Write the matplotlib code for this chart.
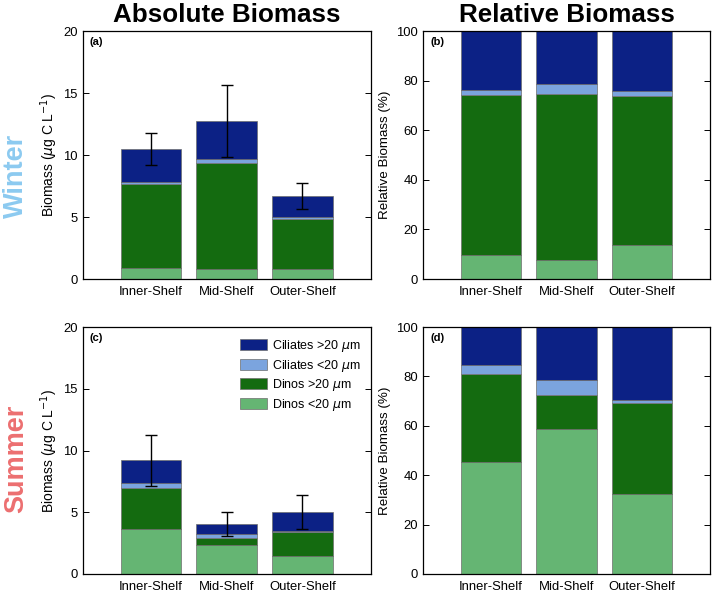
"""Absolute and relative microzooplankton biomass by shelf region, winter vs summer."""

import numpy as np
import matplotlib
matplotlib.use("Agg")
import matplotlib.pyplot as plt
from matplotlib.patches import Patch

plt.rcParams["font.family"] = ["Liberation Sans", "DejaVu Sans"]
plt.rcParams["mathtext.fontset"] = "dejavusans"

# ── Data ────────────────────────────────────────────────────────────────────
REGIONS = ["Inner-Shelf", "Mid-Shelf", "Outer-Shelf"]
GROUPS = ["Dinos <20 $\\mu$m", "Dinos >20 $\\mu$m", "Ciliates <20 $\\mu$m", "Ciliates >20 $\\mu$m"]

# winter, absolute (ug C / L)
W_DINO_S = [0.92, 0.78, 0.81]
W_DINO_L = [6.76, 8.54, 4.05]
W_CIL_S = [0.18, 0.33, 0.14]
W_CIL_L = [2.60, 3.08, 1.68]
W_ERR = [1.30, 2.90, 1.05]

# winter, relative (%)
W_REL_DINO_S = [9.5, 7.5, 13.7]
W_REL_DINO_L = [64.8, 67.2, 59.9]
W_REL_CIL_S = [2.0, 3.9, 2.4]
W_REL_CIL_L = [23.7, 21.4, 24.0]

# summer, absolute (ug C / L)
S_DINO_S = [3.63, 2.31, 1.43]
S_DINO_L = [3.37, 0.62, 1.96]
S_CIL_S = [0.35, 0.33, 0.08]
S_CIL_L = [1.85, 0.78, 1.53]
S_ERR = [2.06, 0.98, 1.36]

# summer, relative (%)
S_REL_DINO_S = [45.2, 58.9, 32.2]
S_REL_DINO_L = [35.6, 13.6, 37.1]
S_REL_CIL_S = [3.7, 6.2, 1.1]
S_REL_CIL_L = [15.5, 21.3, 29.6]

COLORS = ["#65b573", "#146b10", "#7ba4de", "#0c2185"]
EDGE = "#6e6e6e"
W_PX, H_PX = 714, 594


def px_axes(fig, x0, x1, y0, y1):
    return fig.add_axes([x0 / W_PX, 1 - y1 / H_PX, (x1 - x0) / W_PX, (y1 - y0) / H_PX])


def style_axes(ax, ylim, yticks, ylabel, tag, ylabel_size, label_x):
    ax.set_xlim(0.1, 3.9)
    ax.set_ylim(*ylim)
    ax.set_yticks(yticks)
    ax.set_xticks([1, 2, 3])
    ax.set_xticklabels(REGIONS, fontsize=9.4)
    ax.tick_params(axis="x", length=0, pad=5)
    ax.tick_params(axis="y", direction="in", right=True, length=4, labelsize=9.4, width=0.7)
    ax.set_ylabel(ylabel, fontsize=ylabel_size)
    ax.yaxis.set_label_coords(label_x, 0.5)
    for s in ax.spines.values():
        s.set_linewidth(0.9)
    ax.text(0.025, 0.975, tag, transform=ax.transAxes, fontsize=8, fontweight="bold",
            ha="left", va="top")


def stacked(ax, layers, err=None):
    x = np.arange(1, len(REGIONS) + 1)
    bottom = np.zeros(len(REGIONS))
    for vals, col, lab in zip(layers, COLORS, GROUPS):
        ax.bar(x, vals, 0.8, bottom=bottom, color=col, edgecolor=EDGE, linewidth=0.5,
               label=lab, zorder=2)
        bottom = bottom + np.array(vals)
    if err is not None:
        ax.errorbar(x, bottom, yerr=err, fmt="none", ecolor="black", elinewidth=1,
                    capsize=4, capthick=1, zorder=3)


fig = plt.figure(figsize=(W_PX / 100, H_PX / 100), dpi=100)

ax_a = px_axes(fig, 82.7, 370.7, 31, 279)
ax_b = px_axes(fig, 423, 710, 31, 279)
ax_c = px_axes(fig, 82.7, 370.7, 327, 574)
ax_d = px_axes(fig, 423, 710, 327, 574)

abs_label = "Biomass ($\\mu$g C L$^{-1}$)"
rel_label = "Relative Biomass (%)"

stacked(ax_a, [W_DINO_S, W_DINO_L, W_CIL_S, W_CIL_L], W_ERR)
style_axes(ax_a, (0, 20), [0, 5, 10, 15, 20], abs_label, "(a)", 10, -0.08)

stacked(ax_b, [W_REL_DINO_S, W_REL_DINO_L, W_REL_CIL_S, W_REL_CIL_L])
style_axes(ax_b, (0, 100), [0, 20, 40, 60, 80, 100], rel_label, "(b)", 9.6, -0.11)

stacked(ax_c, [S_DINO_S, S_DINO_L, S_CIL_S, S_CIL_L], S_ERR)
style_axes(ax_c, (0, 20), [0, 5, 10, 15, 20], abs_label, "(c)", 10, -0.08)

stacked(ax_d, [S_REL_DINO_S, S_REL_DINO_L, S_REL_CIL_S, S_REL_CIL_L])
style_axes(ax_d, (0, 100), [0, 20, 40, 60, 80, 100], rel_label, "(d)", 9.6, -0.11)

# legend (top layer first, like the reference)
handles = [Patch(facecolor=c, edgecolor=EDGE, linewidth=0.5, label=l)
           for c, l in zip(COLORS[::-1], GROUPS[::-1])]
ax_c.legend(handles=handles, loc="upper left", bbox_to_anchor=(0.545, 0.955),
            frameon=False, fontsize=9, borderpad=0, borderaxespad=0,
            handlelength=2.2, handleheight=0.95, handletextpad=0.35, labelspacing=0.28)

# column titles and row labels
fig.text(226.7 / W_PX, 1 - 15 / H_PX, "Absolute Biomass", fontsize=18.7, fontweight="bold",
         ha="center", va="center")
fig.text(566.5 / W_PX, 1 - 15 / H_PX, "Relative Biomass", fontsize=18.7, fontweight="bold",
         ha="center", va="center")
fig.text(16 / W_PX, 1 - 176 / H_PX, "Winter", fontsize=19.5, fontweight="bold",
         color="#8ccaf0", rotation=90, ha="center", va="center")
fig.text(16 / W_PX, 1 - 459 / H_PX, "Summer", fontsize=19.5, fontweight="bold",
         color="#ec6f70", rotation=90, ha="center", va="center")

fig.savefig("out.png", dpi=100)
